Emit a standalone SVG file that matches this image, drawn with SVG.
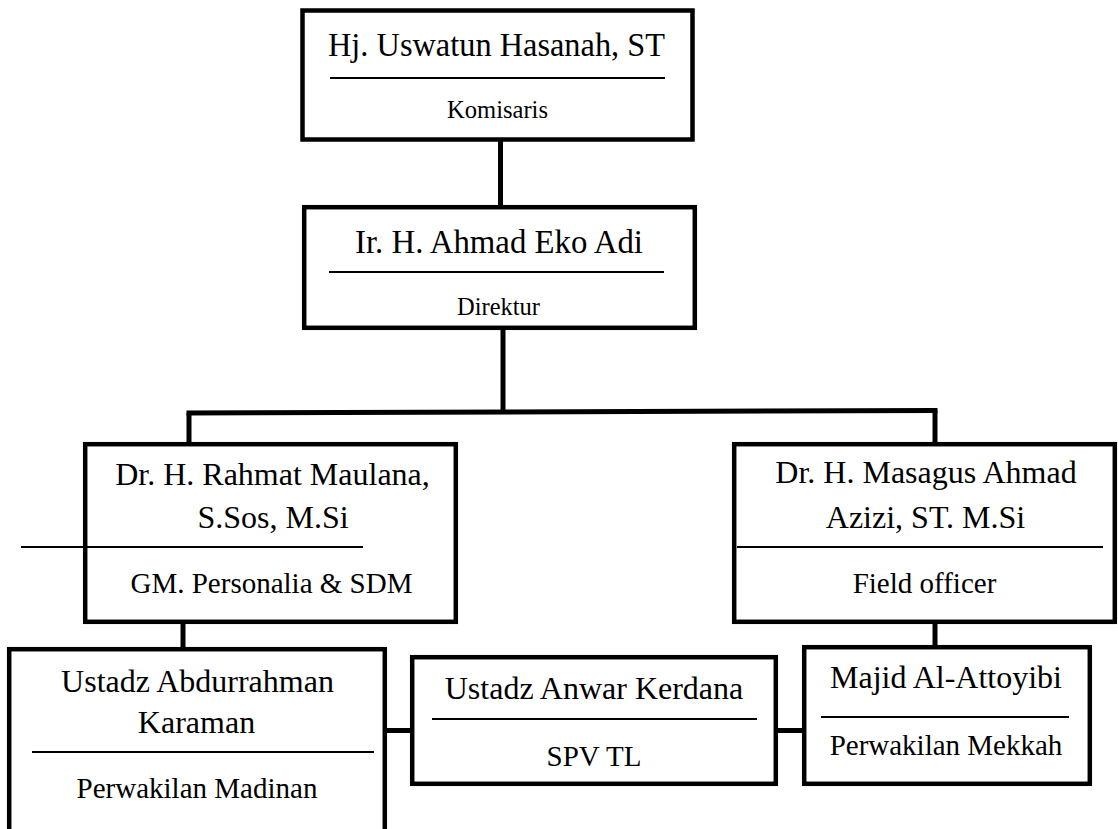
<svg xmlns="http://www.w3.org/2000/svg" width="1118" height="829" viewBox="0 0 1118 829">
<style>
.box{fill:#fff;stroke:#000;stroke-width:4.5}
.sep{stroke:#000;stroke-width:2}
.con{stroke:#000;stroke-width:5;fill:none}
text{font-family:"Liberation Serif","Times New Roman",serif;fill:#000;text-anchor:middle}
.nm{font-size:32px}
.nt{font-size:34.5px}
.rl{font-size:29px}
.rs{font-size:26px}
</style>
<rect width="1118" height="829" fill="#fff"/>
<g id="connectors">
<line class="con" x1="500.5" y1="140" x2="500.5" y2="208"/>
<line class="con" x1="503" y1="328" x2="503" y2="412"/>
<line class="con" x1="186.5" y1="413" x2="937.5" y2="410.5"/>
<line class="con" x1="189" y1="413" x2="189" y2="445"/>
<line class="con" x1="935" y1="410.5" x2="935" y2="445"/>
<line class="con" x1="183" y1="622" x2="183" y2="650"/>
<line class="con" x1="935" y1="622" x2="935" y2="648"/>
<line class="con" x1="385" y1="730.5" x2="413" y2="730.5"/>
<line class="con" x1="776" y1="730.5" x2="805" y2="730.5"/>
</g>
<g id="komisaris">
<rect class="box" x="302.5" y="10.5" width="390" height="129"/>
<text class="nt" x="496.5" y="56" textLength="337" lengthAdjust="spacingAndGlyphs">Hj. Uswatun Hasanah, ST</text>
<line class="sep" x1="330" y1="78" x2="665" y2="78"/>
<text class="rs" x="497.5" y="118" textLength="101" lengthAdjust="spacingAndGlyphs">Komisaris</text>
</g>
<g id="direktur">
<rect class="box" x="304.2" y="207.2" width="390.6" height="120.6"/>
<text class="nt" x="499" y="253" textLength="288" lengthAdjust="spacingAndGlyphs">Ir. H. Ahmad Eko Adi</text>
<line class="sep" x1="329" y1="272" x2="664" y2="272"/>
<text class="rs" x="498.5" y="315" textLength="83" lengthAdjust="spacingAndGlyphs">Direktur</text>
</g>
<g id="gm-personalia">
<rect class="box" x="85.2" y="444.2" width="370.6" height="177.6"/>
<text class="nm" x="272.5" y="485">Dr. H. Rahmat Maulana,</text>
<text class="nm" x="273" y="528">S.Sos, M.Si</text>
<line class="sep" x1="21" y1="547" x2="363" y2="547"/>
<text class="rl" x="271.5" y="593">GM. Personalia &amp; SDM</text>
</g>
<g id="field-officer">
<rect class="box" x="734.2" y="444.2" width="380.6" height="177.6"/>
<text class="nm" x="926" y="483">Dr. H. Masagus Ahmad</text>
<text class="nm" x="925.5" y="528">Azizi, ST. M.Si</text>
<line class="sep" x1="737" y1="547" x2="1103" y2="547"/>
<text class="rl" x="924.5" y="593">Field officer</text>
</g>
<g id="perwakilan-madinah">
<rect class="box" x="9.2" y="649.2" width="375.6" height="200"/>
<text class="nm" x="197.5" y="692">Ustadz Abdurrahman</text>
<text class="nm" x="196.5" y="733">Karaman</text>
<line class="sep" x1="32" y1="752" x2="374" y2="752"/>
<text class="rl" x="197" y="798">Perwakilan Madinan</text>
</g>
<g id="spv-tl">
<rect class="box" x="412.2" y="657.2" width="363.6" height="126.6"/>
<text class="nm" x="594" y="699">Ustadz Anwar Kerdana</text>
<line class="sep" x1="432" y1="719" x2="757" y2="719"/>
<text class="rl" x="594" y="766">SPV TL</text>
</g>
<g id="perwakilan-mekkah">
<rect class="box" x="804.2" y="647.2" width="285.6" height="136.6"/>
<text class="nm" x="946" y="688">Majid Al-Attoyibi</text>
<line class="sep" x1="821" y1="717" x2="1069" y2="717"/>
<text class="rl" x="946" y="755">Perwakilan Mekkah</text>
</g>
</svg>
